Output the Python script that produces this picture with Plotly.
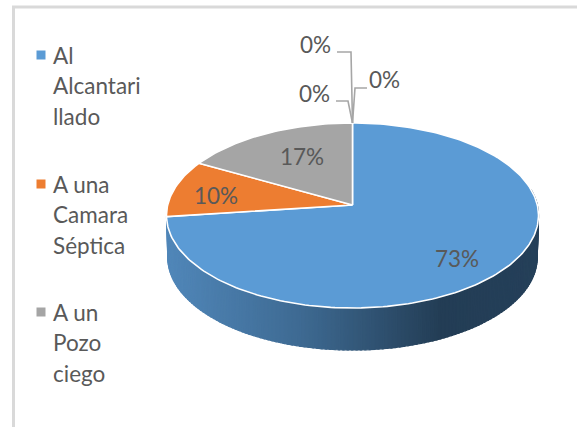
import math
import plotly.graph_objects as go

categories = ["Al Alcantarillado", "A una Camara Séptica", "A un Pozo ciego", "Otro 1", "Otro 2", "Otro 3"]
values = [73, 10, 17, 0, 0, 0]
colors = ["#5b9bd5", "#ed7d31", "#a5a5a5"]
legend_lines = [["Al", "Alcantari", "llado"], ["A una", "Camara", "Séptica"], ["A un", "Pozo", "ciego"]]

W, H = 577, 427
CX, CY = 352.5, 205
A, B, K = 184.8, 91.3, 0.1135
DEPTH = 42
TEXT = "#595959"
FONT = "Lato"


def proj(t, dy=0, scale=1.0):
    X, Y = math.sin(t), math.cos(t)
    d = 1 + K * Y
    return CX + scale * A * X / d, CY - B * Y / d + dy


def lerp_color(x):
    stops = [(170, (80, 134, 184)), (300, (62, 106, 146)), (440, (35, 61, 85)), (540, (37, 64, 90))]
    for (x0, c0), (x1, c1) in zip(stops, stops[1:]):
        if x <= x1:
            f = max(0, (x - x0) / (x1 - x0))
            return "rgb(%d,%d,%d)" % tuple(round(a + (b - a) * f) for a, b in zip(c0, c1))
    return "rgb(37,64,90)"


fig = go.Figure()
total = sum(values)

# side wall of the cylinder (blue slice is the only one facing the viewer)
n = 150
t0, t1 = math.radians(80), math.radians(262.8)
for i in range(n):
    a = t0 + (t1 - t0) * i / n
    b = t0 + (t1 - t0) * (i + 1.25) / n
    p = [proj(a), proj(b), proj(b, DEPTH, 0.993), proj(a, DEPTH, 0.993), proj(a)]
    xm = (p[0][0] + p[1][0]) / 2
    c = lerp_color(xm)
    fig.add_trace(go.Scatter(x=[q[0] for q in p], y=[q[1] for q in p], mode="lines", fill="toself",
                             fillcolor=c, line=dict(color=c, width=1.2), hoverinfo="skip", showlegend=False))

# top face, one polygon per slice
start = 0.0
for name, v, c in zip(categories, values, colors):
    end = start + v / total * 2 * math.pi
    steps = max(2, int(v * 3))
    pts = [(CX, CY)] + [proj(start + (end - start) * j / steps) for j in range(steps + 1)] + [(CX, CY)]
    fig.add_trace(go.Scatter(x=[q[0] for q in pts], y=[q[1] for q in pts], mode="lines", fill="toself",
                             fillcolor=c, line=dict(color="white", width=1.6), name=name,
                             hoverinfo="name", showlegend=False))
    start = end

# leader lines of the zero labels
leaders = [
    ([337, 351, 352.5], [52, 52, 123]),
    ([336, 348, 352.5], [101, 101, 123]),
    ([367, 355, 352.5], [88, 88, 123]),
]
for lx, ly in leaders:
    fig.add_trace(go.Scatter(x=lx, y=ly, mode="lines", line=dict(color="#a6a6a6", width=1.6),
                             hoverinfo="skip", showlegend=False))

# legend markers
legend_y = [55, 184, 312]
fig.add_trace(go.Scatter(x=[41] * 3, y=legend_y, mode="markers",
                         marker=dict(symbol="square", size=9, color=colors), hoverinfo="skip", showlegend=False))

annotations = []
def label(x, y, s, anchor="center"):
    annotations.append(dict(x=x, y=y, text=s, xref="x", yref="y", showarrow=False, xanchor=anchor, yanchor="middle",
                            font=dict(family=FONT, size=22.5, color=TEXT)))

for lines, y0 in zip(legend_lines, legend_y):
    for j, s in enumerate(lines):
        label(51, y0 + j * 30.5, s, "left")

label_pos = [(457, 258), (216, 195), (302, 156), (315, 44), (314, 93), (384, 79)]
for v, (x, y) in zip(values, label_pos):
    label(x, y, f"{v}%")

# outer frame: top and left rules of the cropped chart area
frame = [
    dict(type="line", x0=13.5, x1=13.5, y0=7, y1=H, line=dict(color="#d9d9d9", width=3), xref="x", yref="y"),
    dict(type="line", x0=12, x1=W, y0=7, y1=7, line=dict(color="#d9d9d9", width=3), xref="x", yref="y"),
]

fig.update_layout(
    width=W, height=H, margin=dict(l=0, r=0, t=0, b=0), paper_bgcolor="white", plot_bgcolor="white",
    xaxis=dict(range=[0, W], visible=False, fixedrange=True),
    yaxis=dict(range=[H, 0], visible=False, fixedrange=True),
    annotations=annotations, shapes=frame, showlegend=False,
)
fig.write_html("out.html", config={"displayModeBar": False},
               post_script="document.body.style.margin='0';document.documentElement.style.overflow='hidden';")
